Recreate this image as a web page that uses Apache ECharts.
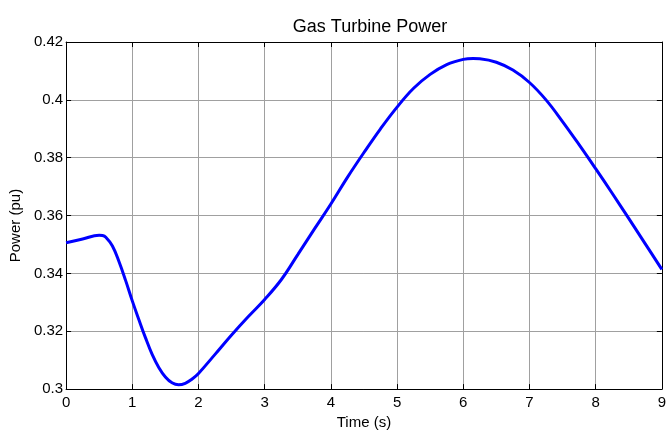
<!DOCTYPE html>
<html>
<head>
<meta charset="utf-8">
<script src="https://cdn.jsdelivr.net/npm/echarts@6/dist/echarts.min.js"></script>
<style>html,body{margin:0;padding:0;background:#fff;}#c{width:669px;height:435px;}</style>
</head>
<body>
<div id="c"></div>
<script>
const title = "Gas Turbine Power";
const xName = "Time (s)";
const yName = "Power (pu)";
const timeS = [0, 0.25, 0.5, 0.55, 0.6, 0.7, 0.8, 0.9, 1.0, 1.1, 1.2, 1.3, 1.4, 1.5, 1.6, 1.7, 1.8, 1.9, 2.0, 2.25, 2.5, 2.75, 3.0, 3.25, 3.5, 3.75, 4.0, 4.25, 4.5, 4.75, 5.0, 5.25, 5.5, 5.75, 6.0, 6.15, 6.25, 6.5, 6.75, 7.0, 7.25, 7.5, 7.75, 8.0, 8.25, 8.5, 8.75, 9.0];
const powerPu = [0.3506, 0.3519, 0.3532, 0.3531, 0.3525, 0.3495, 0.3440, 0.3375, 0.3305, 0.3240, 0.3177, 0.3120, 0.3075, 0.3042, 0.3022, 0.3015, 0.3020, 0.3034, 0.3054, 0.3120, 0.3187, 0.3250, 0.3310, 0.3378, 0.3465, 0.3553, 0.3640, 0.3732, 0.3818, 0.3900, 0.3975, 0.4040, 0.4088, 0.4122, 0.4140, 0.4143, 0.4142, 0.4130, 0.4103, 0.4060, 0.4000, 0.3925, 0.3845, 0.3762, 0.3677, 0.3590, 0.3502, 0.3414];

const font = "Liberation Sans, Arial, sans-serif";
const chart = echarts.init(document.getElementById('c'), null, {renderer: 'canvas'});
const gridLine = {show: true, lineStyle: {color: '#a0a0a0', width: 1}};
const axisLine = {show: true, onZero: false, lineStyle: {color: '#000', width: 1}};
chart.setOption({
  animation: false,
  backgroundColor: '#fff',
  title: {text: title, left: 365, top: 13, textAlign: 'center',
    textStyle: {fontFamily: font, fontSize: 18, fontWeight: 'normal', color: '#000'}},
  grid: {left: 66, right: 5, top: 42, bottom: 39, containLabel: false},
  xAxis: [{
    type: 'value', min: 0, max: 9, interval: 1,
    name: xName, nameLocation: 'middle', nameGap: 25,
    nameTextStyle: {fontFamily: font, fontSize: 15, color: '#000'},
    axisLine: axisLine,
    axisTick: {show: true, inside: true, length: 5, lineStyle: {color: '#000'}},
    axisLabel: {fontFamily: font, fontSize: 15, color: '#000', margin: 6},
    splitLine: gridLine
  }, {
    type: 'value', min: 0, max: 9, interval: 1, position: 'top',
    axisLine: axisLine,
    axisTick: {show: true, inside: true, length: 5, lineStyle: {color: '#000'}},
    axisLabel: {show: false}, splitLine: {show: false}
  }],
  yAxis: [{
    type: 'value', min: 0.3, max: 0.42, interval: 0.02,
    name: yName, nameLocation: 'middle', nameGap: 40,
    nameTextStyle: {fontFamily: font, fontSize: 15, color: '#000', padding: [0, 0, 0, -20]},
    axisLine: axisLine,
    axisTick: {show: true, inside: true, length: 5, lineStyle: {color: '#000'}},
    axisLabel: {fontFamily: font, fontSize: 15, color: '#000', margin: 3,
      formatter: v => String(+v.toFixed(2))},
    splitLine: gridLine
  }, {
    type: 'value', min: 0.3, max: 0.42, interval: 0.02, position: 'right',
    axisLine: axisLine,
    axisTick: {show: true, inside: true, length: 5, lineStyle: {color: '#000'}},
    axisLabel: {show: false}, splitLine: {show: false}
  }],
  series: [{
    type: 'line',
    data: timeS.map((t, i) => [t, powerPu[i]]),
    showSymbol: false, smooth: 0.4,
    lineStyle: {color: '#0000ff', width: 3},
    clip: false
  }]
});
</script>
</body>
</html>
